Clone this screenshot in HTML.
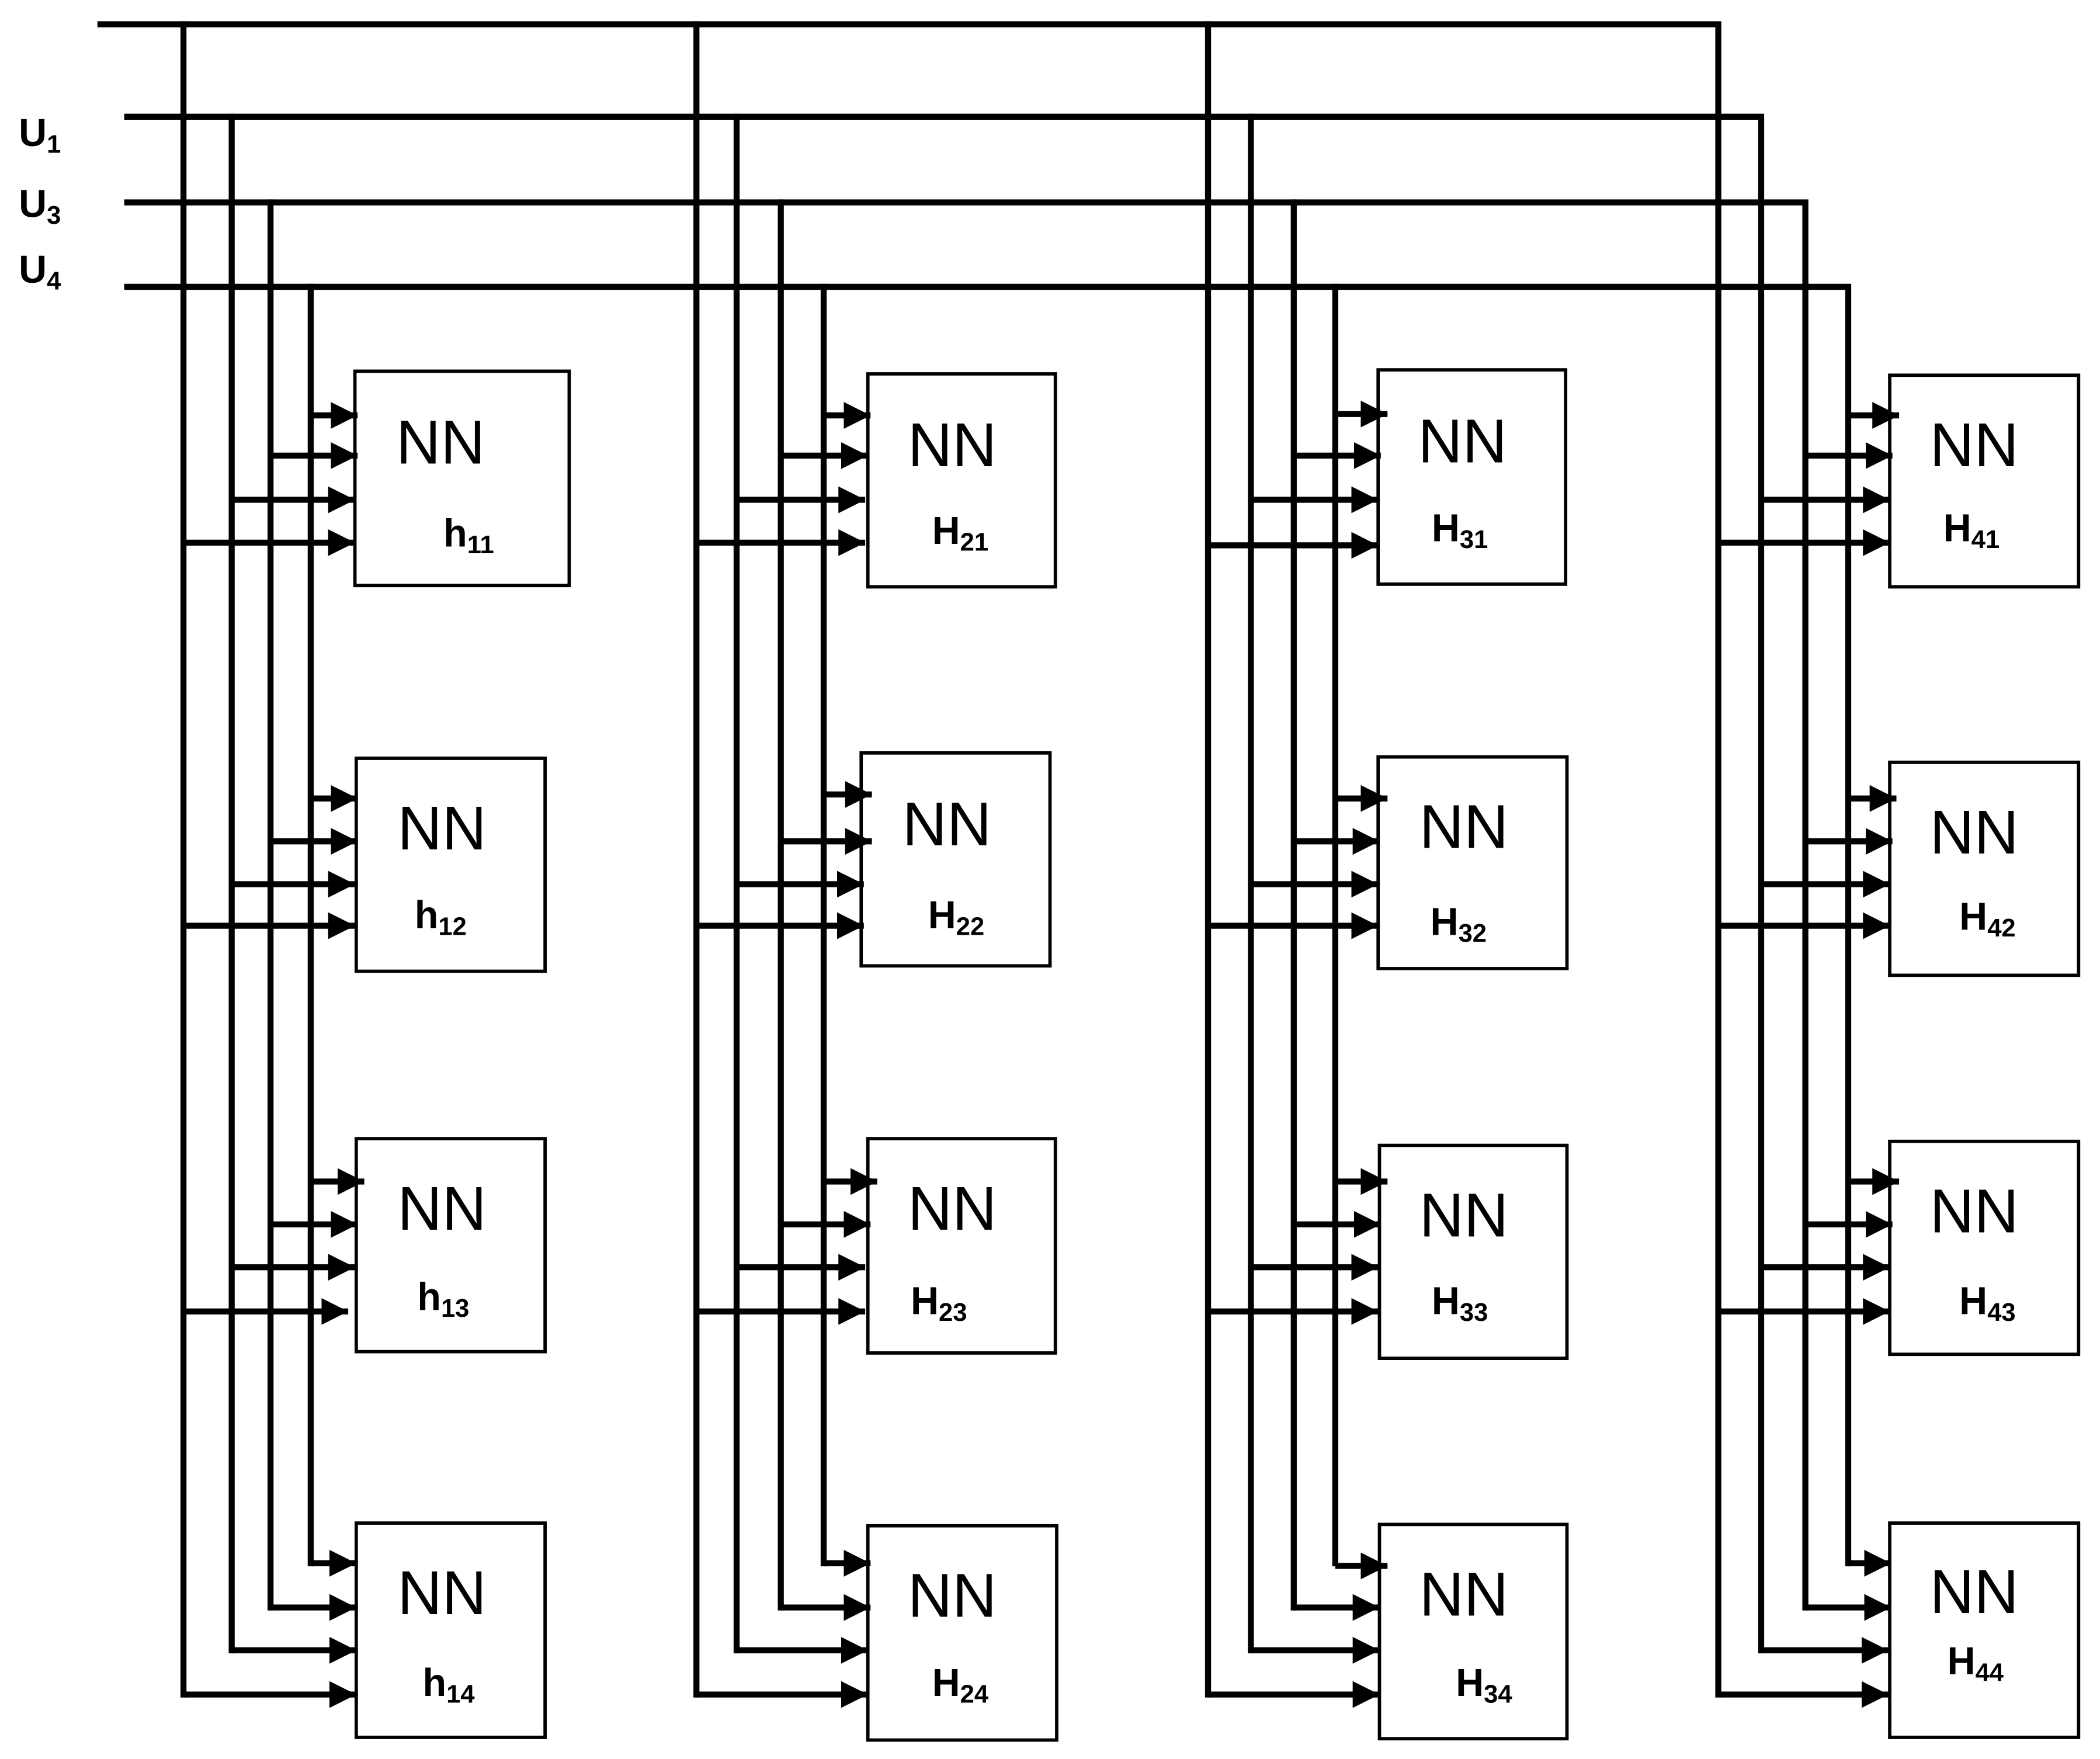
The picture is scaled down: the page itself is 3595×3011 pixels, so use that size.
<!DOCTYPE html>
<html><head><meta charset="utf-8"><style>
html,body{margin:0;padding:0;background:#fff;}
svg{display:block;}
text{font-family:"Liberation Sans",sans-serif;fill:#000;}
</style></head><body>
<svg width="3595" height="3011" viewBox="0 0 1568 1313" xmlns="http://www.w3.org/2000/svg">
<defs>
<marker id="a" markerUnits="userSpaceOnUse" markerWidth="22" markerHeight="22" viewBox="0 0 22 22" refX="20" refY="11" orient="auto">
<path d="M0,1 L20,11 L0,21 Z" fill="#000"/></marker>
</defs>
<g stroke="#000" stroke-width="4.5" fill="none" stroke-linecap="square">
<path d="M75,18 H1283 V1265"/>
<path d="M95,87 H1315 V1232"/>
<path d="M95,151 H1348 V1200"/>
<path d="M95,214 H1380 V1167"/>
<path d="M137,18 V1265"/><path d="M173,87 V1232"/><path d="M202,151 V1200"/><path d="M232,214 V1167"/>
<path d="M520,18 V1265"/><path d="M550,87 V1232"/><path d="M583,151 V1200"/><path d="M615,214 V1167"/>
<path d="M902,18 V1265"/><path d="M934,87 V1232"/><path d="M966,151 V1200"/><path d="M997,214 V1167"/>
</g>
<g stroke="#000" stroke-width="4.5" fill="none" marker-end="url(#a)">
<path d="M232,310 H267"/><path d="M202,340 H267"/><path d="M173,373 H265"/><path d="M137,405 H265"/>
<path d="M232,596 H267"/><path d="M202,628 H267"/><path d="M173,660 H265"/><path d="M137,691 H265"/>
<path d="M232,882 H272"/><path d="M202,914 H267"/><path d="M173,946 H265"/><path d="M137,979 H260"/>
<path d="M232,1167 H266"/><path d="M202,1200 H266"/><path d="M173,1232 H266"/><path d="M137,1265 H266"/>
<path d="M615,310 H650"/><path d="M583,340 H648"/><path d="M550,373 H646"/><path d="M520,405 H646"/>
<path d="M615,593 H651"/><path d="M583,628 H651"/><path d="M550,660 H645"/><path d="M520,691 H645"/>
<path d="M615,882 H655"/><path d="M583,914 H650"/><path d="M550,946 H646"/><path d="M520,979 H646"/>
<path d="M615,1167 H650"/><path d="M583,1200 H650"/><path d="M550,1232 H648"/><path d="M520,1265 H648"/>
<path d="M997,309 H1036"/><path d="M966,340 H1031"/><path d="M934,373 H1029"/><path d="M902,407 H1029"/>
<path d="M997,596 H1036"/><path d="M966,628 H1030"/><path d="M934,660 H1029"/><path d="M902,691 H1029"/>
<path d="M997,882 H1036"/><path d="M966,914 H1031"/><path d="M934,946 H1029"/><path d="M902,979 H1029"/>
<path d="M997,1169 H1036"/><path d="M966,1200 H1030"/><path d="M934,1232 H1030"/><path d="M902,1265 H1030"/>
<path d="M1380,310 H1418"/><path d="M1348,340 H1413"/><path d="M1315,373 H1411"/><path d="M1283,405 H1411"/>
<path d="M1380,596 H1416"/><path d="M1348,628 H1413"/><path d="M1315,660 H1411"/><path d="M1283,691 H1411"/>
<path d="M1380,882 H1418"/><path d="M1348,914 H1413"/><path d="M1315,946 H1411"/><path d="M1283,979 H1411"/>
<path d="M1380,1167 H1412"/><path d="M1348,1200 H1412"/><path d="M1315,1232 H1410"/><path d="M1283,1265 H1410"/>
</g>
<g stroke="#000" stroke-width="2.5" fill="none">
<rect x="265" y="277" width="160" height="160"/>
<rect x="266" y="566" width="141" height="159"/>
<rect x="266" y="850" width="141" height="159"/>
<rect x="266" y="1137" width="141" height="160"/>
<rect x="648" y="279" width="140" height="159"/>
<rect x="643" y="562" width="141" height="159"/>
<rect x="648" y="850" width="140" height="160"/>
<rect x="648" y="1139" width="141" height="160"/>
<rect x="1029" y="276" width="140" height="160"/>
<rect x="1029" y="565" width="141" height="158"/>
<rect x="1030" y="855" width="140" height="159"/>
<rect x="1030" y="1138" width="140" height="160"/>
<rect x="1411" y="280" width="141" height="158"/>
<rect x="1411" y="569" width="141" height="159"/>
<rect x="1411" y="852" width="141" height="159"/>
<rect x="1411" y="1137" width="141" height="160"/>
</g>
<g font-size="46" text-anchor="middle">
<text x="329" y="346">NN</text><text x="330" y="634">NN</text><text x="330" y="918">NN</text><text x="330" y="1205">NN</text>
<text x="711" y="348">NN</text><text x="707" y="631">NN</text><text x="711" y="918">NN</text><text x="711" y="1207">NN</text>
<text x="1092" y="345">NN</text><text x="1093" y="633">NN</text><text x="1093" y="923">NN</text><text x="1093" y="1206">NN</text>
<text x="1474" y="348">NN</text><text x="1474" y="637">NN</text><text x="1474" y="920">NN</text><text x="1474" y="1204">NN</text>
</g>
<g font-size="29" font-weight="bold" text-anchor="middle">
<text x="350" y="408">h<tspan font-size="19" dy="5">11</tspan></text>
<text x="329" y="693">h<tspan font-size="19" dy="5">12</tspan></text>
<text x="331" y="978">h<tspan font-size="19" dy="5">13</tspan></text>
<text x="335" y="1266">h<tspan font-size="19" dy="5">14</tspan></text>
<text x="717" y="406">H<tspan font-size="19" dy="5">21</tspan></text>
<text x="714" y="693">H<tspan font-size="19" dy="5">22</tspan></text>
<text x="701" y="981">H<tspan font-size="19" dy="5">23</tspan></text>
<text x="717" y="1266">H<tspan font-size="19" dy="5">24</tspan></text>
<text x="1090" y="404">H<tspan font-size="19" dy="5">31</tspan></text>
<text x="1089" y="698">H<tspan font-size="19" dy="5">32</tspan></text>
<text x="1090" y="981">H<tspan font-size="19" dy="5">33</tspan></text>
<text x="1108" y="1266">H<tspan font-size="19" dy="5">34</tspan></text>
<text x="1472" y="404">H<tspan font-size="19" dy="5">41</tspan></text>
<text x="1484" y="694">H<tspan font-size="19" dy="5">42</tspan></text>
<text x="1484" y="981">H<tspan font-size="19" dy="5">43</tspan></text>
<text x="1475" y="1250">H<tspan font-size="19" dy="5">44</tspan></text>
</g>
<g font-size="29" font-weight="bold">
<text x="14" y="109">U<tspan font-size="19" dy="5">1</tspan></text>
<text x="14" y="162">U<tspan font-size="19" dy="5">3</tspan></text>
<text x="14" y="211">U<tspan font-size="19" dy="5">4</tspan></text>
</g>
</svg>
</body></html>
